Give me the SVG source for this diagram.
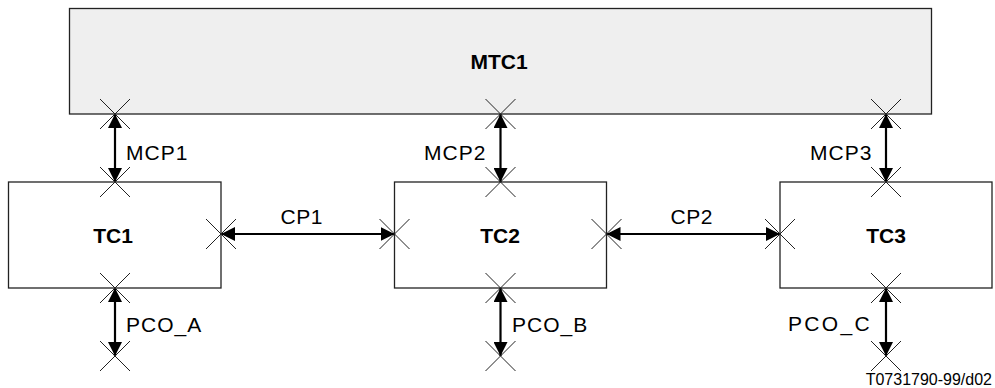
<svg xmlns="http://www.w3.org/2000/svg" width="995" height="388" viewBox="0 0 995 388">
<style>
.box{fill:#ffffff;stroke:#222;stroke-width:1.3}
.mbox{fill:#efefef;stroke:#222;stroke-width:1.3}
.t{font-family:"Liberation Sans",Arial,sans-serif;font-size:21px;fill:#000}
.b{font-weight:bold;text-anchor:middle}
.arr{stroke:#000;stroke-width:2.2;fill:none;marker-start:url(#ah);marker-end:url(#ah)}
.xm{stroke:#222;stroke-width:1;fill:none}
</style>
<defs>
<marker id="ah" markerUnits="userSpaceOnUse" markerWidth="15" markerHeight="14" refX="14" refY="7" orient="auto-start-reverse" viewBox="0 0 15 14">
<path d="M0,0 L14,7 L0,14 z" fill="#000"/>
</marker>
<path id="x" class="xm" d="M-15,-15 L15,15 M-15,15 L15,-15"/>
</defs>
<g id="MTC1">
<rect class="mbox" x="69.5" y="8.5" width="862" height="105.5"/>
<text class="t b" x="499" y="69">MTC1</text>
</g>
<g id="TC1">
<rect class="box" x="8.5" y="182" width="212.5" height="106"/>
<text class="t b" x="113" y="243">TC1</text>
</g>
<g id="TC2">
<rect class="box" x="394.5" y="182" width="212" height="106"/>
<text class="t b" x="500" y="243">TC2</text>
</g>
<g id="TC3">
<rect class="box" x="780" y="182" width="212" height="106"/>
<text class="t b" x="886" y="243">TC3</text>
</g>
<g id="connectors">
<line class="arr" x1="115" y1="114" x2="115" y2="182"/>
<line class="arr" x1="500.5" y1="114" x2="500.5" y2="182"/>
<line class="arr" x1="886" y1="114" x2="886" y2="182"/>
<line class="arr" x1="221" y1="234" x2="394.5" y2="234"/>
<line class="arr" x1="606.5" y1="234" x2="780" y2="234"/>
<line class="arr" x1="115" y1="288" x2="115" y2="356"/>
<line class="arr" x1="500.5" y1="288" x2="500.5" y2="356"/>
<line class="arr" x1="886" y1="288" x2="886" y2="356"/>
<text class="t" x="126" y="160" letter-spacing="1">MCP1</text>
<text class="t" x="424" y="160" letter-spacing="1">MCP2</text>
<text class="t" x="810" y="160" letter-spacing="1">MCP3</text>
<text class="t" x="280.5" y="223.5" letter-spacing="0.5">CP1</text>
<text class="t" x="670.5" y="224" letter-spacing="0.5">CP2</text>
<text class="t" x="126" y="332" letter-spacing="1">PCO_A</text>
<text class="t" x="512" y="332" letter-spacing="1">PCO_B</text>
<text class="t" x="788" y="331" letter-spacing="2.3">PCO_C</text>
</g>
<g id="ports">
<use href="#x" x="115" y="114"/>
<use href="#x" x="115" y="182"/>
<use href="#x" x="500.5" y="114"/>
<use href="#x" x="500.5" y="182"/>
<use href="#x" x="886" y="114"/>
<use href="#x" x="886" y="182"/>
<use href="#x" x="221" y="234"/>
<use href="#x" x="394.5" y="234"/>
<use href="#x" x="606.5" y="234"/>
<use href="#x" x="780" y="234"/>
<use href="#x" x="115" y="288"/>
<use href="#x" x="115" y="356"/>
<use href="#x" x="500.5" y="288"/>
<use href="#x" x="500.5" y="356"/>
<use href="#x" x="886" y="288"/>
<use href="#x" x="886" y="356"/>
</g>
<text x="992" y="385" font-family="'Liberation Sans',Arial,sans-serif" font-size="16" text-anchor="end" fill="#000">T0731790-99/d02</text>
</svg>
